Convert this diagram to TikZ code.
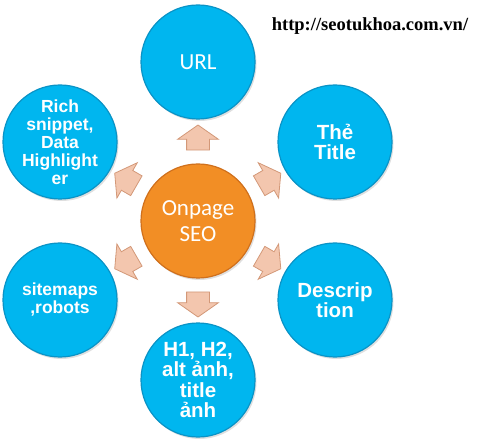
\documentclass[tikz,border=0pt]{standalone}
\usepackage{fontspec}
\setmainfont{Liberation Sans}
\newfontfamily\calfont{Carlito}
\newfontfamily\serfont{Liberation Serif}
\usetikzlibrary{shapes.arrows,shadows,calc}
\definecolor{ballblue}{HTML}{00B6EF}
\definecolor{ballrim}{HTML}{0A93C6}
\definecolor{hubfill}{HTML}{F28E25}
\definecolor{hubrim}{HTML}{D0701C}
\definecolor{peach}{HTML}{F3C6AE}
\definecolor{peachrim}{HTML}{D39878}

\begin{document}
\begin{tikzpicture}[x=1pt, y=-1pt,
	ball/.style={circle, minimum size=114pt, inner sep=0pt, fill=ballblue, draw=ballrim, line width=1.2pt,
		text=white, align=center, font=\bfseries\fontsize{17.5}{18}\selectfont,
		drop shadow={opacity=0.25, shadow xshift=1.5pt, shadow yshift=-2pt}},
	bigball/.style={ball, font=\bfseries\fontsize{20.5}{20.5}\selectfont},
	push/.style={single arrow, single arrow head extend=9pt, single arrow tip angle=110,
		minimum height=25pt, inner xsep=0pt, inner ysep=11pt, fill=peach, draw=peachrim, line width=0.8pt}]
	\useasboundingbox (0,0) rectangle (484,443);
	% hub
	\node[ball, fill=hubfill, draw=hubrim, font=\calfont\fontsize{23}{26}\selectfont] (seo) at (198,221) {Onpage\\SEO};
	% ring of topics
	\node[ball, font=\calfont\fontsize{23}{26}\selectfont] (url) at (198,62) {URL};
	\node[bigball] (title) at (335,142) {Thẻ\\Title};
	\node[bigball] (desc) at (335,300) {Descrip\\tion};
	\node[bigball] (heads) at (198,380) {H1, H2,\\alt ảnh,\\title\\ảnh};
	\node[ball] (maps) at (60,300) {sitemaps\\,robots};
	\node[ball] (rich) at (60,142) {Rich\\snippet,\\Data\\Highlight\\er};
	% arrows out of the hub
	\node[push, rotate=90] (a1) at ($(seo)!0.5!(url)$) {};
	\node[push, rotate=30] (a2) at ($(seo)!0.5!(title)$) {};
	\node[push, rotate=-30] (a3) at ($(seo)!0.5!(desc)$) {};
	\node[push, rotate=-90] (a4) at ($(seo)!0.5!(heads)$) {};
	\node[push, rotate=210] (a5) at ($(seo)!0.5!(maps)$) {};
	\node[push, rotate=150] (a6) at ($(seo)!0.5!(rich)$) {};
	\node[font=\serfont\bfseries\fontsize{18.5}{20}\selectfont] (site) at (370,26) {http://seotukhoa.com.vn/};
\end{tikzpicture}
\end{document}
